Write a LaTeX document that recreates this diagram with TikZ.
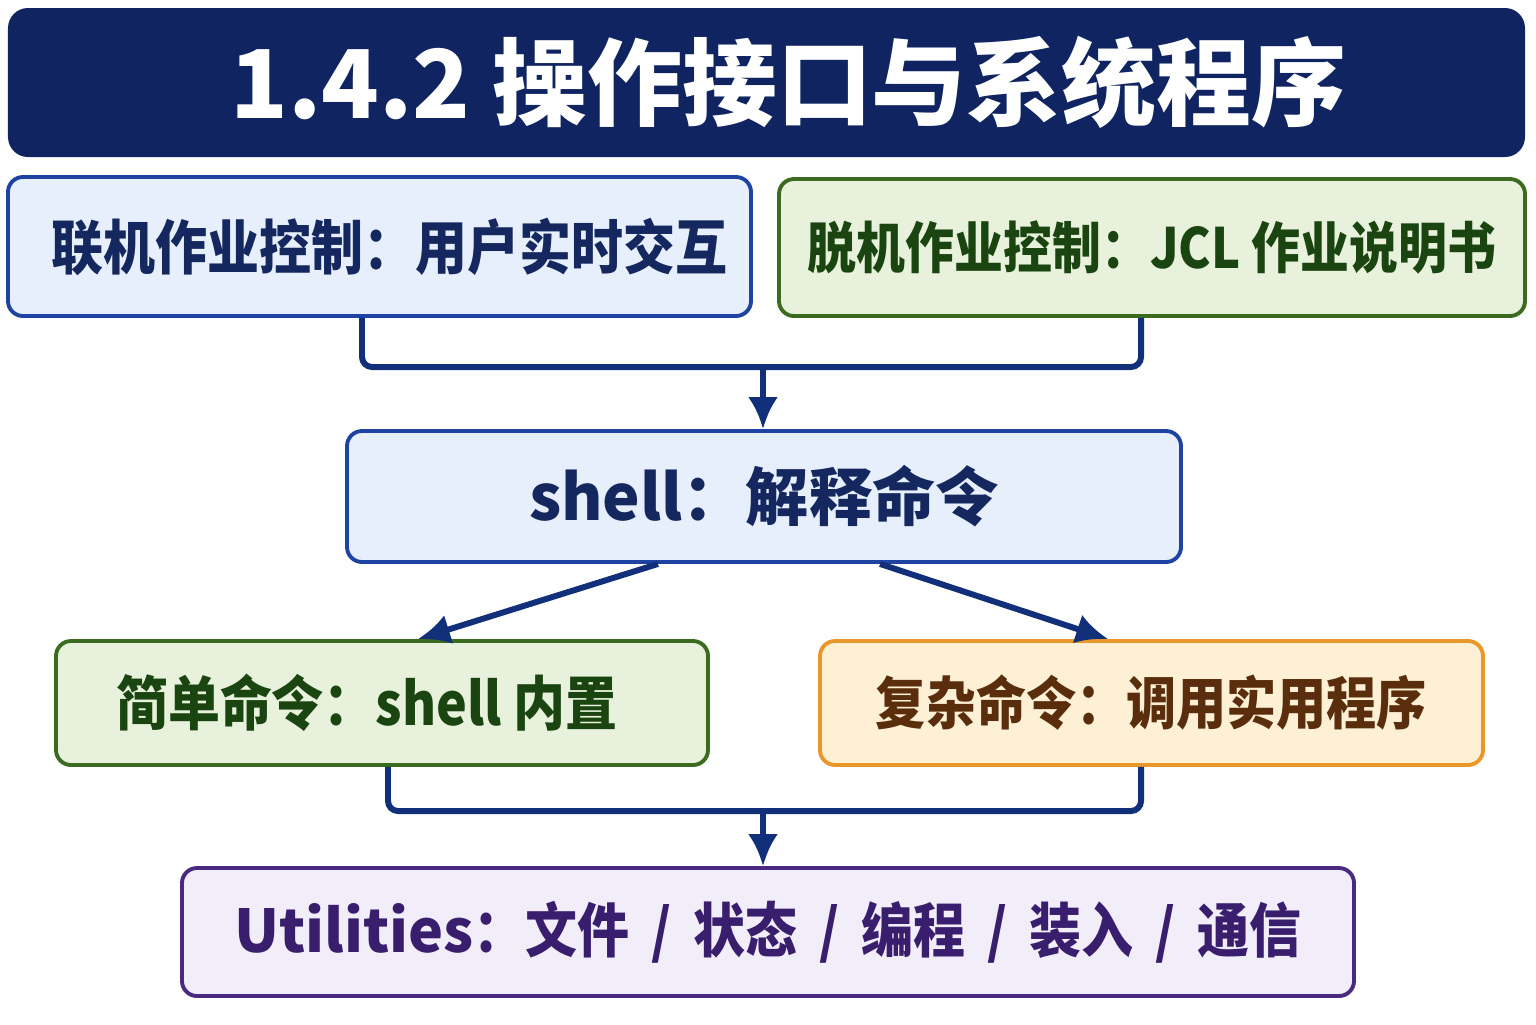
\documentclass[tikz,border=0pt]{standalone}
\usepackage{fontspec}
\setmainfont{Noto Sans CJK SC}
\newfontfamily\narrowcjk{Noto Sans CJK SC}[FakeStretch=0.88]
\usetikzlibrary{arrows.meta,positioning}
\definecolor{navy}{HTML}{0F2461}
\definecolor{linkblue}{HTML}{12307A}
\definecolor{bluefill}{HTML}{E6EFFB}
\definecolor{blueline}{HTML}{1F43A3}
\definecolor{bluetext}{HTML}{14275F}
\definecolor{greenfill}{HTML}{E8F1DC}
\definecolor{greenline}{HTML}{3A6B1E}
\definecolor{greentext}{HTML}{1B4510}
\definecolor{orangefill}{HTML}{FDF0D5}
\definecolor{orangeline}{HTML}{E8982A}
\definecolor{orangetext}{HTML}{5A2E0C}
\definecolor{purplefill}{HTML}{F1EEFA}
\definecolor{purpleline}{HTML}{4A2A80}
\definecolor{purpletext}{HTML}{3A1E6E}
\newcommand{\sep}{\hspace{0.22cm}/\hspace{0.22cm}}
\begin{document}
\begin{tikzpicture}[>=Latex,font=\bfseries,box/.style={draw,line width=1.1pt,rounded corners=0.15cm,align=center,inner sep=0pt,font=\narrowcjk\bfseries\fontsize{16.8}{20}\selectfont},bluebox/.style={box,fill=bluefill,draw=blueline,text=bluetext},greenbox/.style={box,fill=greenfill,draw=greenline,text=greentext},link/.style={line width=1.7pt,draw=linkblue,rounded corners=0.1cm},arr/.style={link,-{Latex[length=3.2mm,width=3mm]}}]
\useasboundingbox (0,0) rectangle (15.36,-10.24);
\node[fill=navy,rounded corners=0.2cm,text=white,minimum width=15.17cm,minimum height=1.49cm,font=\bfseries\fontsize{27}{32}\selectfont] (title) at (7.665,-0.825) {\hspace*{0.44cm}1.4.2 操作接口与系统程序};
\node[bluebox,minimum width=7.43cm,minimum height=1.39cm] (online) at (3.795,-2.465) {\hspace*{0.2cm}联机作业控制：用户实时交互};
\node[greenbox,minimum width=7.46cm,minimum height=1.37cm,font=\narrowcjk\bfseries\fontsize{15.8}{19}\selectfont] (offline) at (11.52,-2.475) {脱机作业控制：JCL 作业说明书};
\node[bluebox,minimum width=8.34cm,minimum height=1.31cm,font=\bfseries\fontsize{18}{22}\selectfont] (shell) at (7.64,-4.965) {shell：解释命令};
\node[greenbox,minimum width=6.52cm,minimum height=1.24cm] (simple) at (3.82,-7.03) {简单命令：shell 内置\hspace*{0.3cm}};
\node[box,fill=orangefill,draw=orangeline,text=orangetext,minimum width=6.63cm,minimum height=1.24cm,font=\narrowcjk\bfseries\fontsize{16.2}{19}\selectfont] (complex) at (11.515,-7.03) {复杂命令：调用实用程序};
\node[box,fill=purplefill,draw=purpleline,text=purpletext,minimum width=11.72cm,minimum height=1.28cm] (util) at (7.68,-9.32) {{\rmfamily Utilities}：文件\sep 状态\sep 编程\sep 装入\sep 通信};
\coordinate (j1) at (7.63,-3.67);
\coordinate (j2) at (7.63,-8.11);
\draw[link] ([xshift=-0.175cm]online.south) |- (j1) -| ([xshift=-0.11cm]offline.south);
\draw[arr] (j1) -- (shell.north -| j1);
\draw[arr] ([xshift=-1.06cm]shell.south) -- ([xshift=0.36cm]simple.north);
\draw[arr] ([xshift=1.16cm]shell.south) -- ([xshift=-0.435cm]complex.north);
\draw[link] ([xshift=0.06cm]simple.south) |- (j2) -| ([xshift=-0.105cm]complex.south);
\draw[arr] (j2) -- (util.north -| j2);
\end{tikzpicture}
\end{document}
